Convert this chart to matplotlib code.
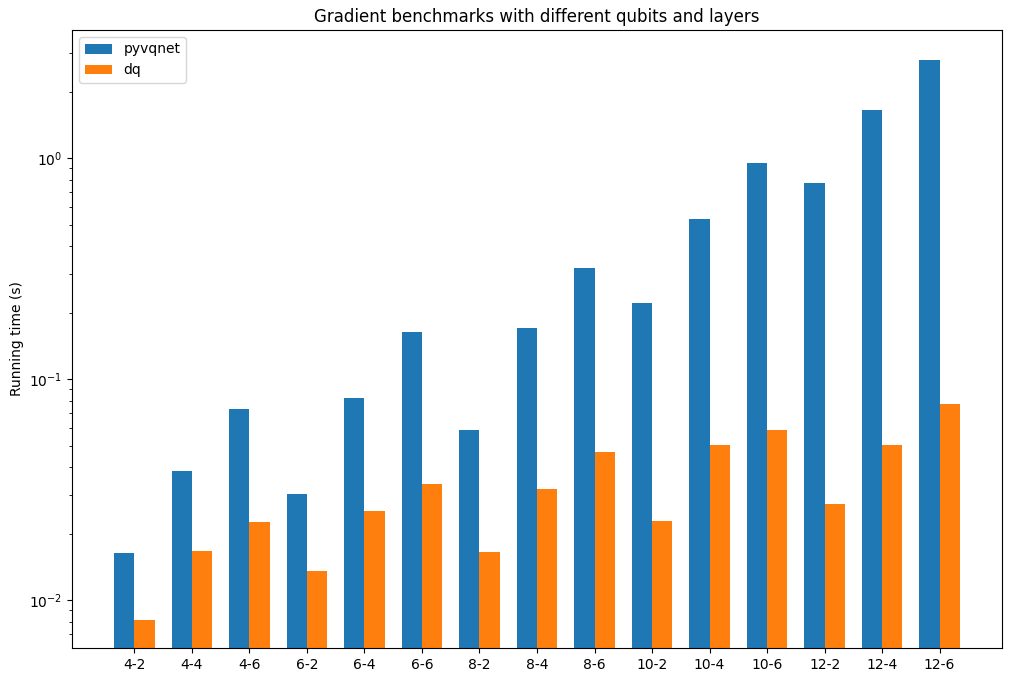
import numpy as np
import matplotlib
matplotlib.use("Agg")
import matplotlib.pyplot as plt

labels = ["4-2", "4-4", "4-6", "6-2", "6-4", "6-6", "8-2", "8-4", "8-6",
          "10-2", "10-4", "10-6", "12-2", "12-4", "12-6"]
pyvqnet = [0.0163, 0.0383, 0.0731, 0.0302, 0.082, 0.163, 0.0588, 0.170, 0.318,
           0.221, 0.530, 0.949, 0.771, 1.65, 2.77]
dq = [0.00812, 0.0167, 0.0225, 0.0135, 0.0253, 0.0335, 0.0165, 0.0318, 0.0467,
      0.0228, 0.0503, 0.0588, 0.0272, 0.0503, 0.077]

x = np.arange(len(labels))
width = 0.35

fig = plt.figure(figsize=(10.12, 6.82), dpi=100)
ax = fig.add_axes([72 / 1012, 34 / 682, 930 / 1012, 618 / 682])
ax.bar(x - width / 2, pyvqnet, width, label="pyvqnet")
ax.bar(x + width / 2, dq, width, label="dq")
ax.set_yscale("log")
ax.set_ylim(0.00607, 3.8)
ax.set_xticks(x)
ax.set_xticklabels(labels)
ax.set_ylabel("Running time (s)")
ax.set_title("Gradient benchmarks with different qubits and layers")
ax.legend(loc="upper left")

plt.savefig("out.png")
